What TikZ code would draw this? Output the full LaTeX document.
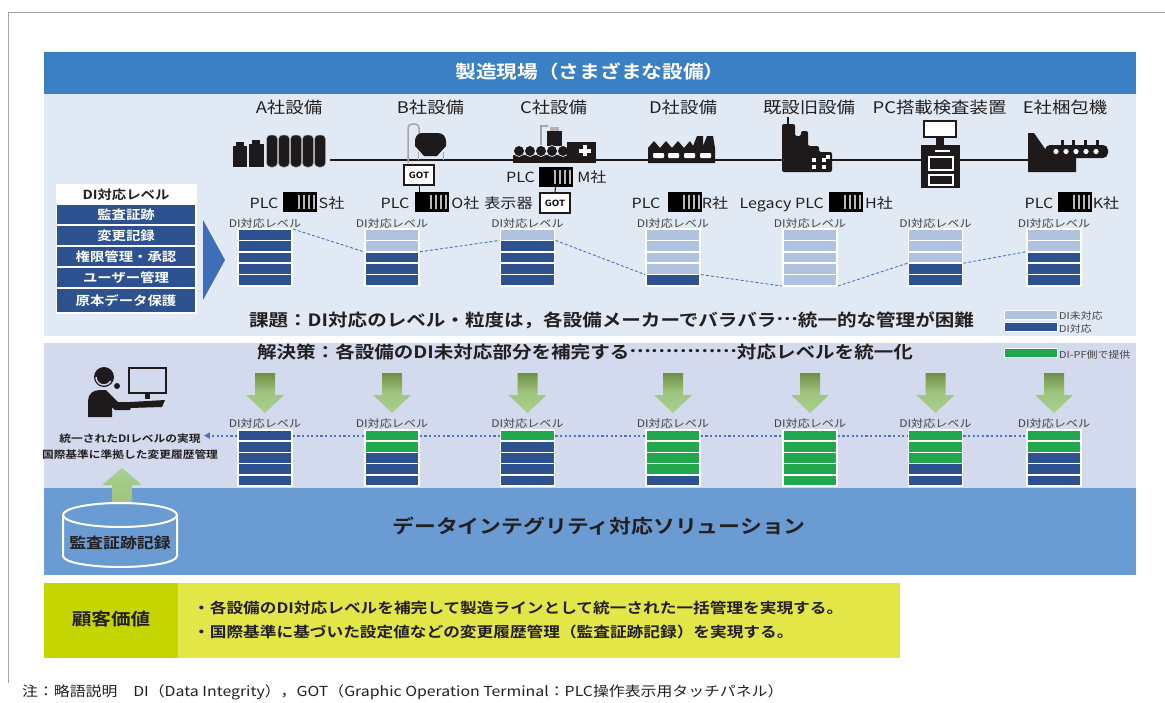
\documentclass[tikz,border=0pt]{standalone}
\usepackage{fontspec}
\setmainfont{Noto Sans CJK JP}[FakeStretch=1.15,BoldFont={Noto Sans CJK JP Bold}]
\usetikzlibrary{arrows.meta}

\definecolor{hdrblue}{HTML}{3B80C4}
\definecolor{panelA}{HTML}{E1E9F5}
\definecolor{panelB}{HTML}{D3DAEE}
\definecolor{solblue}{HTML}{6A9BD2}
\definecolor{dibar}{HTML}{2E5290}
\definecolor{nobar}{HTML}{AFC3E1}
\definecolor{pfbar}{HTML}{22A84C}
\definecolor{triblue}{HTML}{3F6EB8}
\definecolor{dashblue}{HTML}{4A74C0}
\definecolor{ink}{HTML}{231F20}
\definecolor{icon}{HTML}{1E1A1B}
\definecolor{arrtop}{HTML}{6F8F45}
\definecolor{arrbot}{HTML}{A8CF8C}
\definecolor{valL}{HTML}{C5D500}
\definecolor{valR}{HTML}{E2E647}

% ellipsis raised to the middle of the line
\newcommand\midell[1]{\raisebox{.3em}{#1}}

\tikzset{
  txt/.style={inner sep=0pt, text height=1em, text depth=0em, text=ink},
  bar/.style={draw=white, line width=1.6pt, minimum width=54pt, minimum height=11.4pt, inner sep=0pt},
  lvl/.style={txt, text=ink!85, font=\fontsize{10.5}{12}\selectfont},
  eqname/.style={txt, font=\fontsize{16}{18}\selectfont},
  plctxt/.style={txt, font=\fontsize{14}{16}\selectfont},
  plc/.style={fill=black, minimum width=34pt, minimum height=20pt, inner sep=0pt,
    path picture={
      \foreach \s in {15,20,25,30}
        \fill[gray!55] ([xshift=\s pt, yshift=-3pt]path picture bounding box.north west)
          rectangle ([xshift={\s pt+2pt}, yshift=3pt]path picture bounding box.south west);
    }},
  got/.style={draw=icon, fill=white, line width=1.6pt, minimum width=30pt, minimum height=20pt,
    inner sep=0pt, font=\bfseries\fontsize{8.5}{9}\selectfont},
  tabrow/.style={txt, fill=dibar, text=white, minimum width=138pt, minimum height=19pt,
    font=\bfseries\fontsize{12.5}{14}\selectfont},
  legend/.style={txt, text=ink!85, font=\fontsize{9.5}{11}\selectfont, anchor=west},
  dashline/.style={dashblue, line width=0.9pt, dash pattern=on 3pt off 2pt},
  dotline/.style={dashblue, line width=2.2pt, dash pattern=on 2.2pt off 2.4pt},
  garrow/.style={top color=arrtop, bottom color=arrbot, middle color=arrbot!85!arrtop},
  pipe/.style={gray!70, line width=1.5pt},
}

\begin{document}
\begin{tikzpicture}[x=1pt,y=-1pt]
\useasboundingbox (0,0) rectangle (1165,702);

% frame
\draw[gray!70, line width=0.8pt] (8,683) -- (8,12) -- (1165,12);

% bands
\fill[hdrblue] (44,52) rectangle (1136,94);
\fill[panelA] (44,94) rectangle (1136,336);
\fill[panelB] (44,343) rectangle (1136,488);
\fill[solblue] (44,488) rectangle (1136,575);
\node[txt, text=white, font=\bfseries\fontsize{18}{20}\selectfont] (site) at (590,73) {製造現場（さまざまな設備）};

% Equipment names
\node[eqname] (nA) at (289,108) {A社設備};
\node[eqname] (nB) at (430.5,108) {B社設備};
\node[eqname] (nC) at (553.5,108) {C社設備};
\node[eqname] (nD) at (683,108) {D社設備};
\node[eqname] (nL) at (809,108) {既設旧設備};
\node[eqname] (nP) at (939.5,108) {PC搭載検査装置};
\node[eqname] (nE) at (1065,108) {E社梱包機};

% production line
\coordinate (ln0) at (330,160);
\coordinate (ln1) at (1040,160);
\draw[icon, line width=2.2pt] (ln0) -- (ln1);

% A: tanks
\fill[icon] (233,146) rectangle (247,167);
\fill[icon] (249,144) rectangle (264,167);
\fill[icon] (236,142) rectangle (244,146);
\fill[icon] (252,140) rectangle (260,144);
\foreach \cx in {272,284,296,308,320}
  \fill[icon, draw=gray!60, line width=0.5pt, rounded corners=4pt] (\cx-5.5,135) rectangle (\cx+5.5,167);

% B: hopper
\draw[pipe, rounded corners=4pt] (408,163) -- (408,124) -- (419,124) -- (419,134);
\draw[gray!70, line width=1pt] (418,152) -- (418,160) (443,152) -- (443,160);
\fill[icon] (415,141) to[out=90,in=180] (422,133) -- (438,133) to[out=0,in=90] (446,141)
  -- (446,146) -- (437,156) -- (424,156) -- (415,146) -- cycle;

% C: roller conveyor
\draw[pipe] (541,150) -- (541,126) -- (548,126);
\fill[icon] (547,131) rectangle (562,146);
\fill[gray!60] (550,127) rectangle (559,131);
\fill[icon] (513,155) rectangle (596,163);
\foreach \cx in {519,530,541,552,563}
  \fill[icon, draw=white, line width=0.6pt] (\cx,151) circle (5.5pt);
\fill[icon] (567,142) rectangle (596,160);
\fill[white] (583,145) rectangle (587,156);
\fill[white] (579,148.5) rectangle (591,152.5);

% D: factory
\fill[icon] (648,163) -- (648,148) -- (654,141) -- (660,148) -- (666,141) -- (672,148)
  -- (678,141) -- (684,148) -- (690,141) -- (693,146) -- (697,136) -- (703,136) -- (703,146)
  -- (707,136) -- (713,136) -- (715,148) -- (715,163) -- cycle;
\foreach \wx in {653,668,684,700}
  \fill[white, rounded corners=1pt] (\wx,153) rectangle (\wx+11,158);

% legacy plant
\draw[icon, line width=1.5pt] (788,124) -- (788,117);
\fill[icon, rounded corners=2pt] (782,172) -- (782,124) -- (795,124) -- (795,136) -- (801,136)
  -- (801,131) -- (808,131) -- (808,146) -- (819,146) -- (819,152) -- (832,152) -- (832,172) -- cycle;
\foreach \wx/\wy in {812/158,822/158,812/165,822/165,826/155}
  \fill[white] (\wx,\wy) rectangle (\wx+4,\wy+4);

% PC inspection unit
\draw[icon, line width=2pt, fill=white] (924,121) rectangle (956,137);
\fill[icon] (936,137) rectangle (944,145);
\fill[icon] (921,145) rectangle (960,188);
\draw[white, line width=1.2pt] (935,151) -- (950,151);
\draw[white, line width=1.5pt] (929,157) rectangle (953,170);
\draw[white, line width=1.5pt] (929,175) rectangle (953,185);

% E: packing machine
\fill[icon] (1028,172) -- (1028,133) -- (1034,133) -- (1048,153) -- (1076,153) -- (1076,172) -- cycle;
\foreach \cx in {1062,1073,1085,1097}
  \fill[icon] (\cx-1.5,140) rectangle (\cx+1.5,147);
\fill[icon, rounded corners=5pt] (1045,145) rectangle (1108,158);
\foreach \cx in {1056,1066,1076,1086,1096}
  \fill[white] (\cx,151.5) circle (2.6pt);

% PLC units and GOT panels
\node[plc] (plcA) at (299.5,202) {};
\node[plc] (plcB) at (431.5,202) {};
\node[plc] (plcC) at (555.5,177) {};
\node[plc] (plcD) at (684.5,202) {};
\node[plc] (plcL) at (845.5,202) {};
\node[plc] (plcE) at (1075,202) {};
\node[got] (gotB) at (419,175) {GOT};
\node[got] (gotC) at (555,203) {GOT};
\draw[icon, line width=1pt] (gotB.south) -- (gotB.south |- plcB.north);
\draw[icon, line width=1pt] (plcC.south) -- (gotC.north);

\node[plctxt] (pA) at (264,203) {PLC};
\node[plctxt] (mA) at (331.5,203) {S社};
\node[plctxt] (pB) at (395,203) {PLC};
\node[plctxt] (mB) at (465.5,203) {O社};
\node[plctxt] (pC) at (520.5,177) {PLC};
\node[plctxt] (mC) at (592,177) {M社};
\node[plctxt] (dC) at (508.5,203) {表示器};
\node[plctxt] (pD) at (646,203) {PLC};
\node[plctxt] (mD) at (715,203) {R社};
\node[plctxt, anchor=east] (pL) at (824,203) {Legacy PLC};
\node[plctxt] (mL) at (879,203) {H社};
\node[plctxt] (pE) at (1039,203) {PLC};
\node[plctxt] (mE) at (1106,203) {K社};

% DI level table
\fill[white] (56,184) rectangle (197,314);
\node[txt, font=\bfseries\fontsize{12.5}{14}\selectfont] (thead) at (126,194) {DI対応レベル};
\node[tabrow] (t1) at (126,214) {監査証跡};
\node[tabrow] (t2) at (126,235) {変更記録};
\node[tabrow] (t3) at (126,256) {権限管理・承認};
\node[tabrow] (t4) at (126,277) {ユーザー管理};
\node[tabrow, minimum height=23pt] (t5) at (126,300) {原本データ保護};
\fill[triblue] (203,220) -- (225,260) -- (203,300) -- cycle;

% current levels per vendor
\foreach \x/\n [count=\i] in {265/0,392/2,527.5/1,673/4,810/5,935.5/3,1054/2} {
  \node[lvl] (la\i) at (\x,222) {DI対応レベル};
  \foreach \j in {1,...,5} {
    \ifnum\j>\n \colorlet{barfill}{dibar}\else\colorlet{barfill}{nobar}\fi
    \node[bar, fill=barfill] (a\i-\j) at (\x,223.3+11.4*\j) {};
  }
  \coordinate (al\i) at (\x-28,229+11.4*\n);
  \coordinate (ar\i) at (\x+28,229+11.4*\n);
}
\foreach \i [evaluate=\i as \k using int(\i+1)] in {1,...,6}
  \draw[dashline] (ar\i) -- (al\k);

\node[txt, font=\bfseries\fontsize{17}{19}\selectfont] (issue) at (611.5,321)
  {課題：DI対応のレベル・粒度は，各設備メーカーでバラバラ\midell{…}統一的な管理が困難};

% legend
\node[bar, fill=nobar, minimum width=53pt, minimum height=9pt, line width=1pt] (lg1) at (1030.5,314.5) {};
\node[legend] (lg1t) at (1059,314.5) {DI未対応};
\node[bar, fill=dibar, minimum width=53pt, minimum height=9pt, line width=1pt] (lg2) at (1030.5,327) {};
\node[legend] (lg2t) at (1059,327) {DI対応};
\node[bar, fill=pfbar, minimum width=53pt, minimum height=9pt, line width=1pt] (lg3) at (1030.5,353) {};
\node[legend] (lg3t) at (1059,353) {DI-PF側で提供};

% solution
\node[txt, font=\bfseries\fontsize{17}{19}\selectfont] (fix) at (585,353)
  {解決策：各設備のDI未対応部分を補完する\midell{……………}対応レベルを統一化};

\foreach \x/\n [count=\i] in {265/0,392/2,527.5/1,673/4,810/5,935.5/3,1054/2} {
  \shade[garrow] (\x-10,373) -- (\x+10,373) -- (\x+10,395) -- (\x+19,395) -- (\x,413)
    -- (\x-19,395) -- (\x-10,395) -- cycle;
  \node[lvl] (lb\i) at (\x,422) {DI対応レベル};
  \foreach \j in {1,...,5} {
    \ifnum\j>\n \colorlet{barfill}{dibar}\else\colorlet{barfill}{pfbar}\fi
    \node[bar, fill=barfill, minimum height=11.2pt] (b\i-\j) at (\x,424.4+11.2*\j) {};
  }
}
\foreach \i [evaluate=\i as \k using int(\i+1)] in {1,...,6}
  \draw[dotline] (b\i-1.east) -- (b\k-1.west);

% operator
\fill[icon] (104,377) circle (10pt);
\draw[panelB, line width=1.4pt] (104,377) ++(-8pt,0) arc[start angle=180, end angle=330, radius=8pt];
\fill[icon] (117,386) circle (3pt);
\fill[icon] (88,417) -- (88,401) .. controls (88,394) and (93,390) .. (100,390) -- (106,390)
  -- (118,402) -- (133,402) -- (130,410) -- (115,410) -- (112,407) -- (112,417) -- cycle;
\draw[icon, line width=2pt] (129,368) rectangle (166,393);
\fill[icon] (145,393) rectangle (150,399);
\fill[icon] (130,402) -- (165,400) -- (162,407) -- (130,408) -- cycle;

\node[txt, font=\bfseries\fontsize{10.2}{12}\selectfont] (real) at (130,437) {統一されたDIレベルの実現};
\node[txt, font=\bfseries\fontsize{10.2}{12}\selectfont] (hist) at (130,453) {国際基準に準拠した変更履歴管理};
\draw[dotline, -{Triangle[length=6pt,width=6pt]}] (b1-1.west) -- ([xshift=3pt]real.east |- b1-1.west);

% audit trail store
\shade[top color=arrbot, bottom color=arrbot!80!arrtop] (112,504) -- (112,485) -- (102,485) -- (122,468)
  -- (142,485) -- (132,485) -- (132,504) -- cycle;
\draw[white, line width=2pt] (120,515) ellipse [x radius=57pt, y radius=12pt];
\draw[white, line width=2pt] (63,515) -- (63,556) arc[start angle=180, end angle=360, x radius=57pt, y radius=11pt] -- (177,515);
\node[txt, font=\bfseries\fontsize{14.7}{16}\selectfont] (db) at (120,543) {監査証跡記録};

\node[txt, font=\bfseries\fontsize{19}{21}\selectfont] (sol) at (599,528) {データインテグリティ対応ソリューション};

% customer value
\fill[valL] (44,583) rectangle (178,658);
\fill[valR] (178,583) rectangle (900,658);
\node[txt, font=\bfseries\fontsize{17}{19}\selectfont] (cv) at (111,620) {顧客価値};
\node[txt, anchor=west, font=\bfseries\fontsize{14.5}{16}\selectfont] (cv1) at (193,608)
  {・各設備のDI対応レベルを補完して製造ラインとして統一された一括管理を実現する。};
\node[txt, anchor=west, font=\bfseries\fontsize{14.5}{16}\selectfont] (cv2) at (193,632)
  {・国際基準に基づいた設定値などの変更履歴管理（監査証跡記録）を実現する。};

% note
\node[txt, anchor=west, font=\fontsize{13.8}{15}\selectfont] (note) at (22,691)
  {注：略語説明　DI（Data Integrity），GOT（Graphic Operation Terminal：PLC操作表示用タッチパネル）};
\end{tikzpicture}
\end{document}
